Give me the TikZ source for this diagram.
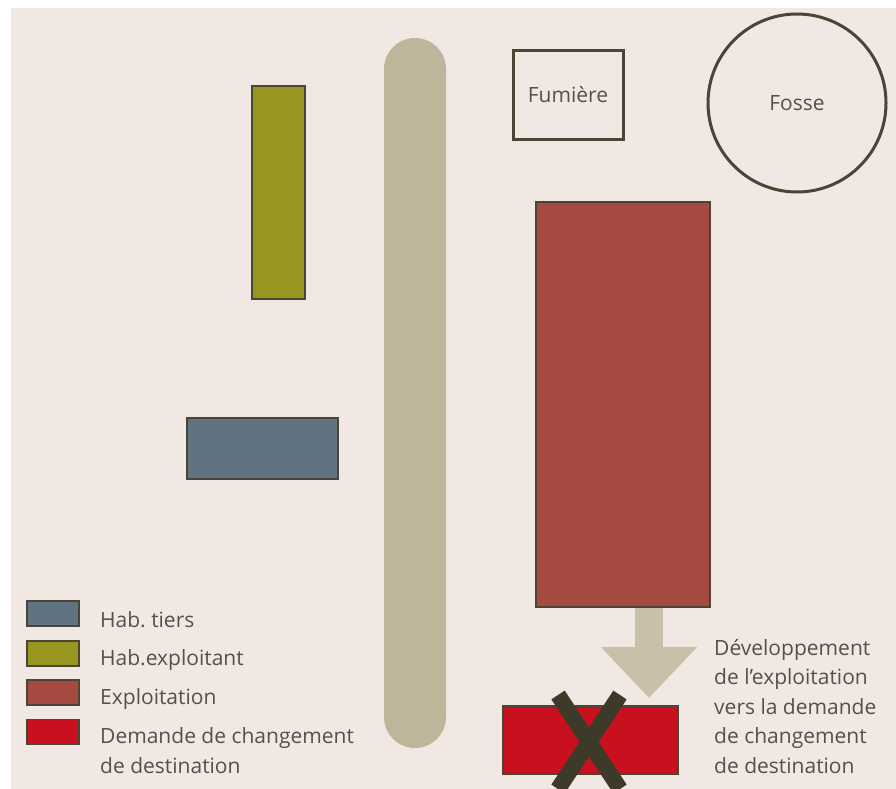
\documentclass[tikz,border=0pt]{standalone}
\usepackage{fontspec}
\setmainfont{Open Sans}
\usepackage{xcolor}
\usepackage{tikz}
\usetikzlibrary{arrows.meta}
\frenchspacing
\definecolor{paper}{HTML}{F2E8E3}
\definecolor{roadtan}{HTML}{BFB59A}
\definecolor{arrowtan}{HTML}{C9C0AA}
\definecolor{olive}{HTML}{98961F}
\definecolor{slate}{HTML}{5F7381}
\definecolor{brick}{HTML}{A44A40}
\definecolor{alarm}{HTML}{C8101E}
\definecolor{outline}{HTML}{4A4535}
\definecolor{crossdark}{HTML}{3E3A2A}
\definecolor{ink}{HTML}{55504B}
\tikzset{
  building/.style={draw=outline, line width=2.2pt, inner sep=0pt},
  annex/.style={draw=outline, line width=3pt, inner sep=0pt, text=ink, font=\fontsize{21}{24}\selectfont},
  road/.style={fill=roadtan, rounded corners=31pt, inner sep=0pt, minimum width=62pt},
  swatch/.style={draw=outline, line width=1.4pt, inner sep=0pt, minimum width=52pt, minimum height=25pt},
  legendtext/.style={text=ink, align=left, inner sep=0pt, font=\fontsize{21}{29.5}\selectfont},
  growth/.style={draw=arrowtan, line width=28pt, -{Triangle[length=51pt,width=93pt]}},
  cross/.style={draw=crossdark, line width=16pt}
}

\begin{document}
\begin{tikzpicture}[x=1pt, y=-1pt]
  \useasboundingbox (0,0) rectangle (896,789);
  \fill[paper] (11,8) rectangle (896,789);

  \node[road, minimum height=710pt] (road) at (415,393) {};
  \node[building, fill=olive, minimum width=53pt, minimum height=213pt] (habexpl) at (278.5,192.5) {};
  \node[building, fill=slate, minimum width=151pt, minimum height=61pt] (habtiers) at (262.5,448.5) {};
  \node[annex, rectangle, minimum width=110pt, minimum height=88pt] (fumiere) at (568,95) {Fumière};
  \node[annex, circle, minimum size=178pt] (fosse) at (797,103) {Fosse};
  \node[building, fill=brick, minimum width=174pt, minimum height=405pt] (exploit) at (623,404.5) {};
  \node[building, fill=alarm, minimum width=175pt, minimum height=68pt] (demande) at (590.5,740) {};

  \coordinate (tip) at (649,698);
  \draw[growth] (exploit.south -| tip) -- (tip);
  \draw[cross] (558,695) -- (620,789) (620,695) -- (558,789);

  \node[legendtext, anchor=base west] (devtext) at (714,773) {Développement\\de l’exploitation\\vers la demande\\de changement\\de destination};

  \node[swatch, fill=slate] (keytiers) at (53,613.5) {};
  \node[swatch, fill=olive] (keyexpl) at (53,653.5) {};
  \node[swatch, fill=brick] (keyexploit) at (53,692.5) {};
  \node[swatch, fill=alarm] (keydemande) at (53,732) {};
  \node[legendtext, anchor=base west] at (100,627) {Hab. tiers};
  \node[legendtext, anchor=base west] at (100,665) {Hab.exploitant};
  \node[legendtext, anchor=base west] at (100,704) {Exploitation};
  \node[legendtext, anchor=base west] at (100,773) {Demande de changement\\de destination};
\end{tikzpicture}
\end{document}
